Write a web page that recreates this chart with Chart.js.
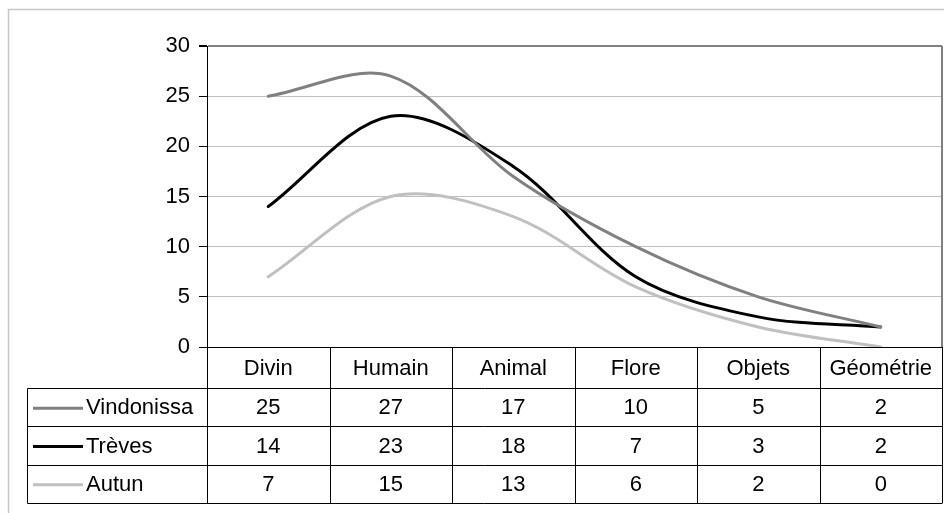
<!DOCTYPE html>
<html>
<head>
<meta charset="utf-8">
<script src="https://cdn.jsdelivr.net/npm/chart.js@4"></script>
<style>
  html, body { margin: 0; padding: 0; background: #fff; }
  #c { display: block; }
</style>
</head>
<body>
<canvas id="c" width="944" height="513"></canvas>
<script>
const categories = ["Divin", "Humain", "Animal", "Flore", "Objets", "Géométrie"];
const seriesNames = ["Vindonissa", "Trèves", "Autun"];
const vindonissa = [25, 27, 17, 10, 5, 2];
const treves = [14, 23, 18, 7, 3, 2];
const autun = [7, 15, 13, 6, 2, 0];
const yTicks = [0, 5, 10, 15, 20, 25, 30];
const seriesColors = ["#808080", "#000000", "#c0c0c0"];

const FONT = "'Liberation Sans', Arial, sans-serif";
const FS = 22;

const tablePlugin = {
  id: 'dataTable',
  afterDraw(chart) {
    const ctx = chart.ctx;
    const ca = chart.chartArea;
    const xs = chart.scales.x;
    const n = categories.length;
    const colW = (ca.right - ca.left) / n;
    const headerH = 41;
    const rowH = 38.3;
    const tableLeft = 27.5;
    const top = ca.bottom;
    const rowsTop = top + headerH;
    const bottom = rowsTop + rowH * seriesNames.length;
    ctx.save();
    // outer frame
    ctx.strokeStyle = '#c8c8c8';
    ctx.lineWidth = 1.5;
    ctx.strokeRect(8.5, 9.5, chart.width + 20, chart.height + 20);
    // plot right border
    ctx.strokeStyle = '#808080';
    ctx.lineWidth = 2;
    ctx.beginPath();
    ctx.moveTo(ca.right, ca.top);
    ctx.lineTo(ca.right, ca.bottom);
    ctx.stroke();
    // table lines
    ctx.strokeStyle = '#000';
    ctx.lineWidth = 1;
    ctx.beginPath();
    ctx.moveTo(ca.left, Math.round(top) + 0.5);
    ctx.lineTo(ca.right, Math.round(top) + 0.5);
    for (let r = 0; r <= seriesNames.length; r++) {
      const y = Math.round(rowsTop + r * rowH) + 0.5;
      ctx.moveTo(tableLeft, y);
      ctx.lineTo(ca.right, y);
    }
    ctx.moveTo(tableLeft, Math.round(rowsTop) + 0.5);
    ctx.lineTo(tableLeft, Math.round(bottom) + 0.5);
    for (let i = 0; i <= n; i++) {
      const x = Math.round(ca.left + i * colW) + 0.5;
      ctx.moveTo(x, Math.round(top));
      ctx.lineTo(x, Math.round(bottom) + 0.5);
    }
    ctx.stroke();
    // header text
    ctx.fillStyle = '#000';
    ctx.font = FS + 'px ' + FONT;
    ctx.textAlign = 'center';
    ctx.textBaseline = 'middle';
    categories.forEach((c, i) => {
      ctx.fillText(c, xs.getPixelForValue(i), top + headerH / 2 + 1);
    });
    const data = chart.data.datasets;
    data.forEach((ds, r) => {
      const yc = rowsTop + r * rowH + rowH / 2 + 1;
      // legend key
      ctx.strokeStyle = ds.borderColor;
      ctx.lineWidth = 3;
      ctx.beginPath();
      ctx.moveTo(33, yc);
      ctx.lineTo(83, yc);
      ctx.stroke();
      ctx.textAlign = 'left';
      ctx.fillText(ds.label, 86, yc);
      ctx.textAlign = 'center';
      ds.data.forEach((v, i) => {
        ctx.fillText(String(v), xs.getPixelForValue(i), yc);
      });
    });
    ctx.restore();
  }
};

new Chart(document.getElementById('c'), {
  type: 'line',
  data: {
    labels: categories,
    datasets: [
      { label: seriesNames[0], data: vindonissa, borderColor: seriesColors[0] },
      { label: seriesNames[1], data: treves, borderColor: seriesColors[1] },
      { label: seriesNames[2], data: autun, borderColor: seriesColors[2] }
    ]
  },
  options: {
    responsive: false,
    animation: false,
    devicePixelRatio: 1,
    layout: { padding: { top: 46, right: 2, left: 0, bottom: 0 } },
    elements: {
      line: { borderWidth: 3, tension: 0.33, fill: false, borderCapStyle: 'round' },
      point: { radius: 0, hoverRadius: 0 }
    },
    plugins: { legend: { display: false }, tooltip: { enabled: false } },
    scales: {
      x: {
        type: 'category',
        offset: true,
        grid: { display: false },
        ticks: { display: false },
        border: { display: false },
        afterFit(scale) { scale.height = 166; }
      },
      y: {
        min: 0,
        max: 30,
        afterBuildTicks(scale) { scale.ticks = yTicks.map(v => ({ value: v })); },
        ticks: {
          color: '#000',
          padding: 9,
          font: { family: FONT, size: FS }
        },
        grid: {
          tickLength: 8,
          tickColor: '#000',
          color: (c) => c.tick && c.tick.value === 30 ? '#808080' : (c.tick && c.tick.value === 0 ? '#000' : '#c0c0c0'),
          lineWidth: (c) => c.tick && c.tick.value === 30 ? 2 : 1
        },
        border: { color: '#000', width: 1 },
        afterFit(scale) { scale.width = 207; }
      }
    }
  },
  plugins: [tablePlugin]
});
</script>
</body>
</html>
